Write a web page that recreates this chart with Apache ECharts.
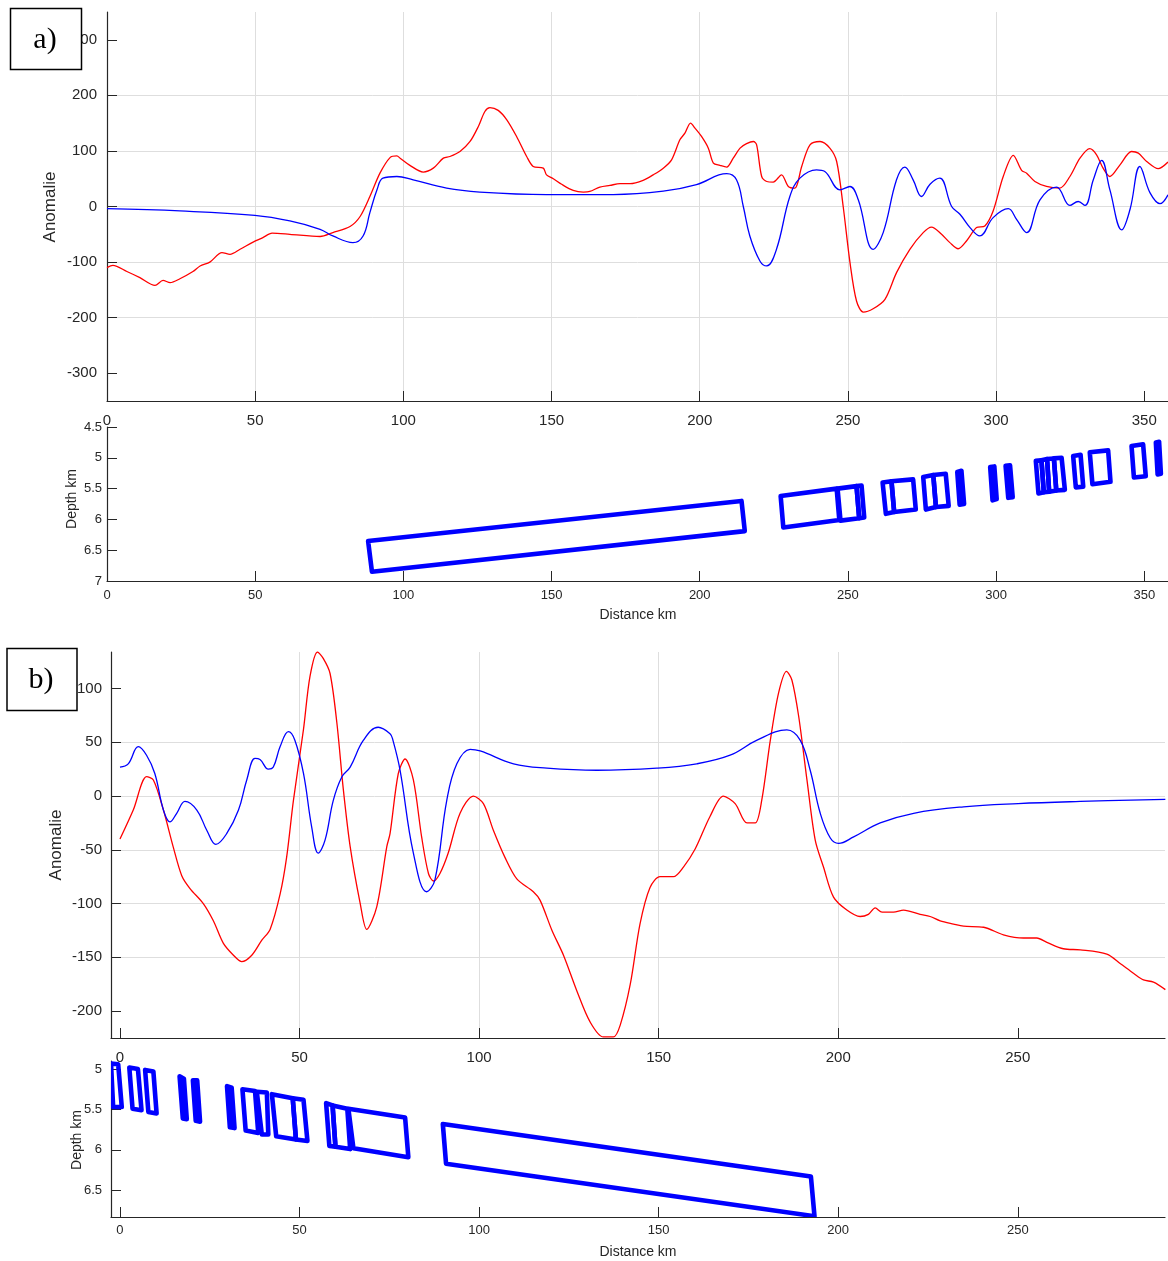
<!DOCTYPE html>
<html><head><meta charset="utf-8">
<script src="https://cdn.jsdelivr.net/npm/echarts@6/dist/echarts.min.js"></script>
<style>html,body{margin:0;padding:0;background:#fff}#c{width:1168px;height:1261px}</style>
</head><body><div id="c"></div>
<script>
// ---------- Panel a) : observed (red) and calculated (blue) anomaly ----------
const kmObsA = [0,2.0,6.7,11.1,16.2,18.9,21.3,24.6,29.0,31.4,34.7,38.8,41.5,44.9,49.3,52.6,55.7,61.7,71.9,76.2,82.0,85.4,88.7,92.1,95.5,97.8,98.9,102.2,106.7,110.1,113.5,115.7,119.1,122.5,125.3,127.5,129.2,132.0,134.9,138.2,141.6,143.8,147.2,148.3,150.6,153.4,157.3,160.7,162.9,166.3,169.7,173.1,176.5,180.9,184.3,187.7,190.5,193.3,195.0,196.9,198.4,200.6,202.9,204.6,206.8,209.1,211.3,213.6,215.8,218.1,219.2,220.9,222.6,224.8,227.6,229.9,232.1,234.4,237.2,240.6,243.9,246.2,248.4,250.7,252.9,255.2,258.5,262.5,266.4,270.9,275.4,278.2,281.6,284.4,287.2,290.0,293.4,296.2,299.0,302.4,305.8,308.6,310.3,313.1,317.0,321.5,324.9,328.3,331.6,333.9,336.1,338.4,341.8,345.7,348.0,350.8,354.7,358.0];
const obsA = [-110,-106,-117,-128,-142,-133,-137,-130,-117,-107,-100,-83,-86,-77,-64,-56,-48,-50,-54,-47,-36,-18,18,60,88,91,87,74,62,69,87,90,99,117,144,171,178,173,156,126,90,72,69,57,50,40,29,26,27,35,38,41,41,47,57,69,84,120,132,150,141,126,105,78,74,71,87,105,113,117,111,54,45,44,57,36,33,72,111,117,105,81,0,-101,-170,-190,-184,-167,-119,-77,-47,-37,-50,-65,-76,-62,-38,-35,-8,54,92,65,60,45,36,33,54,87,104,93,69,54,75,99,96,81,68,80];
const kmCalA = [0,24.6,49.9,61.7,71.9,76.2,83.0,86.4,88.7,91.1,93.1,97.8,103.3,114.6,125.8,148.3,170.8,187.7,198.9,209.1,212.4,214.7,216.9,220.3,222.6,225.9,230.4,233.8,239.4,242.2,247.3,250.7,253.5,258.5,261.9,266.4,269.2,272.0,274.8,277.7,281.0,285.0,287.8,291.2,294.5,299.0,304.1,306.9,310.3,314.8,320.4,324.9,327.7,330.0,332.8,335.6,338.4,342.4,345.2,348.5,351.9,355.3,358.0];
const calA = [-4,-8,-16,-26,-41,-53,-65,-53,-11,30,51,54,48,33,26,21.5,21.5,27.5,39.5,59,48,0,-53,-98,-107,-77,18,51,66,63,30,36,12,-77,-47,48,71,48,18,40,51,0,-14,-38,-53,-20,-4,-23,-47,12,35,2,9,2,48,83,30,-42,-5,72,25,5,21];
// prisms a): corners [x1,d1, x2,d2, x3,d3, x4,d4] in km / km depth
const prismsA = [
  [88.1,6.35, 214.1,5.70, 215.2,6.19, 89.4,6.85],
  [227.3,5.62, 246.2,5.50, 247.1,6.01, 228.2,6.13],
  [246.5,5.50, 252.9,5.46, 253.8,5.98, 247.5,6.02],
  [252.9,5.46, 254.6,5.45, 255.5,5.97, 253.8,5.98],
  [261.7,5.40, 264.7,5.38, 265.6,5.88, 262.8,5.91],
  [264.7,5.38, 272.0,5.35, 272.9,5.84, 265.6,5.88],
  [275.4,5.31, 278.8,5.28, 279.7,5.80, 276.3,5.84],
  [278.8,5.28, 283.0,5.26, 284.0,5.78, 279.7,5.80],
  [286.9,5.23, 288.3,5.21, 289.2,5.75, 287.7,5.76],
  [298.0,5.15, 299.4,5.14, 300.2,5.67, 298.8,5.69],
  [303.2,5.13, 304.7,5.12, 305.6,5.64, 304.1,5.65],
  [313.4,5.05, 315.3,5.04, 316.1,5.56, 314.3,5.58],
  [315.3,5.04, 317.2,5.02, 317.9,5.55, 316.1,5.56],
  [317.2,5.02, 319.5,5.01, 320.3,5.53, 317.9,5.55],
  [319.5,5.01, 322.1,5.00, 323.2,5.52, 320.3,5.53],
  [326.0,4.97, 328.5,4.95, 329.4,5.47, 326.9,5.48],
  [331.6,4.91, 337.8,4.88, 338.6,5.39, 332.5,5.43],
  [345.7,4.81, 349.6,4.78, 350.5,5.30, 346.5,5.32],
  [353.9,4.75, 355.0,4.74, 355.6,5.26, 354.5,5.27],
  [359.5,4.70, 362.0,4.68, 363.0,5.20, 360.0,5.22]
];
// ---------- Panel b) ----------
const kmObsB = [0,3.7,7.4,9.3,12.1,14.8,17.2,19.5,23.2,26.0,28.8,31.6,33.9,36.7,39.5,41.8,44.6,46.4,48.3,51.1,52.9,55.0,56.6,58.5,60.4,62.2,64.1,66.9,68.7,71.5,74.3,75.2,77.5,79.4,81.7,84.0,85.9,87.3,89.1,91.4,94.7,98.4,101.2,104.0,107.2,110.5,115.1,117.0,120.3,123.5,127.2,130.9,134.6,137.4,139.3,142.1,144.8,147.6,150.4,154.1,156.9,160.2,164.3,168.0,171.3,174.6,176.9,178.7,181.1,183.4,185.6,187.1,189.0,191.3,193.6,195.9,198.7,202.4,206.1,208.4,210.3,212.2,215.4,218.2,222.8,225.6,228.4,232.1,234.9,240.5,246.0,251.6,255.3,258.1,262.7,267.4,274.8,278.6,282.3,285.0,287.8,291.1];
const obsB = [-40,-13,18,15,-13,-47,-74,-86,-100,-116,-137,-148,-154,-148,-134,-124,-91,-57,-4,62,111,134,128,114,68,6,-47,-100,-124,-103,-47,-35,21,34.5,15,-38,-72,-79,-72,-53,-16,0,-7,-32,-57,-77,-89,-97,-125,-148,-181,-210,-224,-224,-213,-175,-119,-85,-75,-75,-66,-49,-19,0,-7,-25,-25,-4,52,96,116,108,74,15,-41,-66,-94,-106,-112,-110,-104,-108,-108,-106,-110,-112,-116,-119,-121,-122,-129,-132,-132,-136,-142,-143,-147,-156,-165,-171,-173,-180];
const kmCalB = [0,2.3,5.1,7.4,9.7,12.1,13.9,15.8,18.1,21.4,24.2,26.7,29.7,33.0,35.3,37.6,39.0,41.3,42.7,44.6,46.9,48.7,51.1,53.4,55.2,57.1,59.4,61.8,64.1,67.8,71.9,75.2,76.0,78.0,81.7,85.4,87.7,91.0,93.8,97.5,100.3,109.6,118.9,132.8,149.5,160.6,169.9,177.4,185.7,189.4,192.2,195.0,197.8,200.1,204.3,211.7,221.0,234.9,250.1,267.4,291.1];
const calB = [27,30,46,38,21,-13,-24,-16,-5,-13,-32,-45,-35,-13,15,35,34,25,27,46,60,52,21,-29,-53,-41,-4,18,27,52,64,58,52,24,-53,-89,-78,-4,30,43.5,42,30,26,24,26,30,38,52,61.5,52,24,-16,-39,-44,-38,-25,-16,-10,-7,-5,-3];
const prismsB = [
  [-2.5,4.93, -0.5,4.94, 0.5,5.47, -1.9,5.47],
  [2.6,4.98, 5.0,5.00, 6.0,5.51, 3.5,5.49],
  [7.0,5.01, 9.3,5.03, 10.2,5.55, 7.9,5.53],
  [16.6,5.09, 17.8,5.12, 18.6,5.62, 17.5,5.61],
  [20.3,5.14, 21.5,5.14, 22.3,5.65, 21.1,5.64],
  [29.8,5.21, 31.1,5.23, 31.9,5.73, 30.6,5.72],
  [34.1,5.25, 37.6,5.27, 38.5,5.79, 35.0,5.76],
  [38.1,5.28, 40.9,5.29, 41.3,5.81, 39.5,5.81],
  [42.3,5.31, 48.1,5.36, 49.0,5.87, 43.5,5.83],
  [48.1,5.36, 51.1,5.38, 52.2,5.89, 49.0,5.87],
  [57.4,5.42, 59.2,5.45, 60.0,5.96, 58.3,5.95],
  [59.2,5.45, 63.3,5.49, 64.1,5.99, 60.0,5.96],
  [63.6,5.49, 79.4,5.60, 80.3,6.09, 65.0,5.98],
  [89.9,5.68, 192.4,6.33, 193.4,6.82, 90.8,6.17]
];
// tick labels
const ticksXA = [0,50,100,150,200,250,300,350];
const ticksYA = [-300,-200,-100,0,100,200,300];
const ticksDepthA = [4.5,5,5.5,6,6.5,7];
const ticksXB = [0,50,100,150,200,250];
const ticksYB = [-200,-150,-100,-50,0,50,100];
const ticksDepthB = [5,5.5,6,6.5];

const FONT = '"Liberation Sans", Arial, Helvetica, sans-serif';
const AX = '#262626';
const GRIDC = '#dedede';
const pairs = (xs, ys) => xs.map((x, i) => [x, ys[i]]);

function xAx(gi, min, max, split, ticks, fs, margin) {
  return { type: 'value', gridIndex: gi, min, max, splitNumber: split, position: 'bottom',
    axisLine: { show: true, onZero: false, lineStyle: { color: AX, width: 1.2 } },
    axisTick: { show: true, inside: true, length: 10, customValues: ticks, lineStyle: { color: AX } },
    axisLabel: { show: true, customValues: ticks, margin, fontSize: fs, color: AX, fontFamily: FONT },
    splitLine: { show: gi % 2 === 0, showMinLine: false, showMaxLine: false, lineStyle: { color: GRIDC, width: 1 } } };
}
function yAx(gi, min, max, split, ticks, fs, margin, inverse, grid) {
  return { type: 'value', gridIndex: gi, min, max, splitNumber: split, inverse: !!inverse, position: 'left',
    axisLine: { show: true, onZero: false, lineStyle: { color: AX, width: 1.2 } },
    axisTick: { show: true, inside: true, length: 10, customValues: ticks, lineStyle: { color: AX } },
    axisLabel: { show: true, customValues: ticks, margin, fontSize: fs, color: AX, fontFamily: FONT },
    splitLine: { show: !!grid, showMinLine: false, showMaxLine: false, lineStyle: { color: GRIDC, width: 1 } } };
}
function prismRender(params, api) {
  const pts = [];
  for (let i = 0; i < 4; i++) pts.push(api.coord([api.value(2 * i), api.value(2 * i + 1)]));
  return { type: 'polygon', shape: { points: pts },
    style: { fill: 'none', stroke: '#0000ff', lineWidth: 4.6, lineJoin: 'round' } };
}
function txt(x, y, text, fs, rot, family) {
  return { type: 'text', x, y, rotation: rot || 0, z: 101,
    style: { text, fontSize: fs, fontFamily: family || FONT, fill: family ? '#000' : AX, textAlign: 'center', textVerticalAlign: 'middle' } };
}

const chart = echarts.init(document.getElementById('c'), null, { renderer: 'canvas' });
chart.setOption({
  animation: false,
  backgroundColor: '#fff',
  grid: [
    { left: 107, top: 12, width: 1061, height: 389, containLabel: false },
    { left: 107, top: 427, width: 1061, height: 154, containLabel: false },
    { left: 111, top: 652, width: 1054, height: 386, containLabel: false },
    { left: 111, top: 1061, width: 1054, height: 156, containLabel: false }
  ],
  xAxis: [
    xAx(0, 0, 358, 7, ticksXA, 15, 12),
    xAx(1, 0, 358, 7, ticksXA, 13, 8),
    xAx(2, -2.5, 291, 6, ticksXB, 15, 12),
    xAx(3, -2.5, 291, 6, ticksXB, 13, 7)
  ],
  yAxis: [
    yAx(0, -350, 350, 7, ticksYA, 15, 10, false, true),
    yAx(1, 4.5, 7, 5, ticksDepthA, 13, 5, true, false),
    yAx(2, -225, 134, 7, ticksYB, 15, 9, false, true),
    yAx(3, 4.9, 6.83, 4, ticksDepthB, 13, 9, true, false)
  ],
  series: [
    { type: 'line', xAxisIndex: 0, yAxisIndex: 0, data: pairs(kmObsA, obsA), showSymbol: false, smooth: 0.3,
      lineStyle: { color: '#ff0000', width: 1.3 }, itemStyle: { color: '#ff0000' } },
    { type: 'line', xAxisIndex: 0, yAxisIndex: 0, data: pairs(kmCalA, calA), showSymbol: false, smooth: 0.4,
      lineStyle: { color: '#0000ff', width: 1.3 }, itemStyle: { color: '#0000ff' } },
    { type: 'custom', xAxisIndex: 1, yAxisIndex: 1, data: prismsA, renderItem: prismRender, clip: true },
    { type: 'line', xAxisIndex: 2, yAxisIndex: 2, data: pairs(kmObsB, obsB), showSymbol: false, smooth: 0.3,
      lineStyle: { color: '#ff0000', width: 1.3 }, itemStyle: { color: '#ff0000' } },
    { type: 'line', xAxisIndex: 2, yAxisIndex: 2, data: pairs(kmCalB, calB), showSymbol: false, smooth: 0.4,
      lineStyle: { color: '#0000ff', width: 1.3 }, itemStyle: { color: '#0000ff' } },
    { type: 'custom', xAxisIndex: 3, yAxisIndex: 3, data: prismsB, renderItem: prismRender, clip: true }
  ],
  graphic: [
    txt(50, 207, 'Anomalie', 17, Math.PI / 2),
    txt(72, 499, 'Depth km', 14, Math.PI / 2),
    txt(638, 615, 'Distance km', 14),
    txt(56, 845, 'Anomalie', 17, Math.PI / 2),
    txt(77, 1140, 'Depth km', 14, Math.PI / 2),
    txt(638, 1252, 'Distance km', 14),
    { type: 'rect', z: 100, shape: { x: 10.5, y: 8.5, width: 71, height: 61 }, style: { fill: '#fff', stroke: '#000', lineWidth: 1.5 } },
    txt(45, 40, 'a)', 30, 0, '"Liberation Serif", "Times New Roman", serif'),
    { type: 'rect', z: 100, shape: { x: 7, y: 648.5, width: 70, height: 62 }, style: { fill: '#fff', stroke: '#000', lineWidth: 1.5 } },
    txt(41, 680, 'b)', 30, 0, '"Liberation Serif", "Times New Roman", serif')
  ]
});
</script></body></html>
